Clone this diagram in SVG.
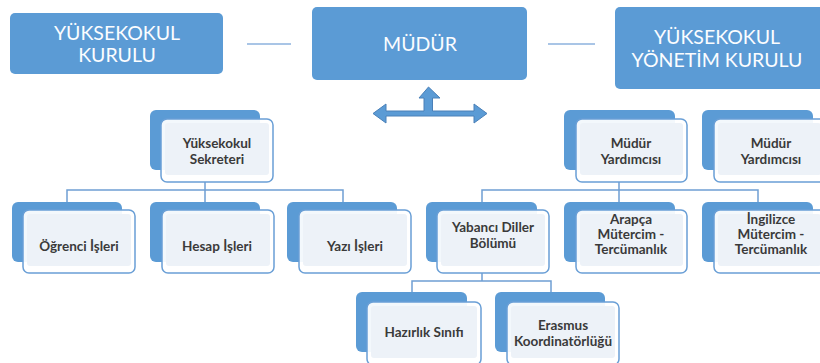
<svg xmlns="http://www.w3.org/2000/svg" width="820" height="363" viewBox="0 0 820 363">
<style>
.top{fill:#5b9bd5;}
.tt{font-family:Lato,"Liberation Sans",sans-serif;font-size:19.5px;fill:#fbfdff;text-anchor:middle;}
.back{fill:#5b9bd5;}
.front{fill:#ffffff;fill-opacity:0.93;stroke:#6a9fd6;stroke-width:1.5;}
.inner{fill:#edf2f8;}
.st{font-family:Lato,"Liberation Sans",sans-serif;font-size:13.5px;font-weight:bold;fill:#3a3a3a;text-anchor:middle;}
.conn{fill:none;stroke:#6f9fd3;stroke-width:1.5;}
.tl{fill:none;stroke:#a9c5e6;stroke-width:2;}
</style>
<rect width="820" height="363" fill="#ffffff"/>
<g id="connectors">
<line class="tl" x1="247" y1="44" x2="291" y2="44"/>
<line class="tl" x1="548" y1="44" x2="595" y2="44"/>
<path class="conn" d="M205 182V190M67 202V190H343V202M205 190V202"/>
<path class="conn" d="M619 182V190M482 202V190H758V202M619 190V202"/>
<path class="conn" d="M482 273V281M412 292V281H551V292"/>
</g>
<g id="arrow">
<path d="M373 113.5L386 104V111H424V98H419L428.5 87L440 98H432.5V111H474V104L487 113.5L474 123V116H386V123Z" fill="#5b9bd5" stroke="#4a80b8" stroke-width="1"/>
</g>
<g id="yuksekokul-kurulu">
<rect class="top" x="10" y="13" width="213" height="61" rx="5"/>
<text class="tt" x="117" y="40">YÜKSEKOKUL</text>
<text class="tt" x="117" y="62">KURULU</text>
</g>
<g id="mudur">
<rect class="top" x="312" y="7" width="215" height="73" rx="5"/>
<text class="tt" x="420" y="51">MÜDÜR</text>
</g>
<g id="yonetim-kurulu">
<rect class="top" x="615" y="7" width="215" height="82" rx="5"/>
<text class="tt" x="717" y="44">YÜKSEKOKUL</text>
<text class="tt" x="717" y="67">YÖNETİM KURULU</text>
</g>
<g id="sekreter">
<rect class="back" x="150" y="110" width="110" height="60" rx="6"/>
<rect class="front" x="161" y="119" width="112" height="63" rx="6"/>
<rect class="inner" x="165" y="123" width="104" height="52" rx="3"/>
<text class="st" x="217" y="148">Yüksekokul</text>
<text class="st" x="217" y="164">Sekreteri</text>
</g>
<g id="ogrenci">
<rect class="back" x="12" y="202" width="110" height="60" rx="6"/>
<rect class="front" x="23" y="210" width="112" height="63" rx="6"/>
<rect class="inner" x="27" y="214" width="104" height="52" rx="3"/>
<text class="st" x="79" y="251">Öğrenci İşleri</text>
</g>
<g id="hesap">
<rect class="back" x="150" y="202" width="110" height="60" rx="6"/>
<rect class="front" x="162" y="210" width="112" height="63" rx="6"/>
<rect class="inner" x="166" y="214" width="104" height="52" rx="3"/>
<text class="st" x="217" y="251">Hesap İşleri</text>
</g>
<g id="yazi">
<rect class="back" x="287" y="202" width="110" height="60" rx="6"/>
<rect class="front" x="299" y="210" width="112" height="63" rx="6"/>
<rect class="inner" x="303" y="214" width="104" height="52" rx="3"/>
<text class="st" x="355" y="251">Yazı İşleri</text>
</g>
<g id="mudur-yardimcisi-1">
<rect class="back" x="564" y="110" width="111" height="60" rx="6"/>
<rect class="front" x="576" y="119" width="111" height="63" rx="6"/>
<rect class="inner" x="580" y="123" width="103" height="52" rx="3"/>
<text class="st" x="631" y="148">Müdür</text>
<text class="st" x="631" y="164">Yardımcısı</text>
</g>
<g id="mudur-yardimcisi-2">
<rect class="back" x="702" y="110" width="111" height="60" rx="6"/>
<rect class="front" x="714" y="119" width="111" height="63" rx="6"/>
<rect class="inner" x="718" y="123" width="103" height="52" rx="3"/>
<text class="st" x="771" y="148">Müdür</text>
<text class="st" x="771" y="164">Yardımcısı</text>
</g>
<g id="yabanci-diller">
<rect class="back" x="426" y="202" width="111" height="60" rx="6"/>
<rect class="front" x="437" y="210" width="112" height="63" rx="6"/>
<rect class="inner" x="441" y="214" width="104" height="52" rx="3"/>
<text class="st" x="493" y="232">Yabancı Diller</text>
<text class="st" x="493" y="248">Bölümü</text>
</g>
<g id="arapca">
<rect class="back" x="564" y="202" width="111" height="60" rx="6"/>
<rect class="front" x="576" y="210" width="111" height="63" rx="6"/>
<rect class="inner" x="580" y="214" width="103" height="52" rx="3"/>
<text class="st" x="631" y="224">Arapça</text>
<text class="st" x="631" y="239">Mütercim -</text>
<text class="st" x="631" y="254">Tercümanlık</text>
</g>
<g id="ingilizce">
<rect class="back" x="702" y="202" width="111" height="60" rx="6"/>
<rect class="front" x="714" y="210" width="111" height="63" rx="6"/>
<rect class="inner" x="718" y="214" width="103" height="52" rx="3"/>
<text class="st" x="771" y="224">İngilizce</text>
<text class="st" x="771" y="239">Mütercim -</text>
<text class="st" x="771" y="254">Tercümanlık</text>
</g>
<g id="hazirlik">
<rect class="back" x="356" y="292" width="111" height="60" rx="6"/>
<rect class="front" x="367" y="302" width="114" height="63" rx="6"/>
<rect class="inner" x="371" y="306" width="106" height="52" rx="3"/>
<text class="st" x="424" y="337">Hazırlık Sınıfı</text>
</g>
<g id="erasmus">
<rect class="back" x="495" y="292" width="110" height="60" rx="6"/>
<rect class="front" x="507" y="302" width="112" height="63" rx="6"/>
<rect class="inner" x="511" y="306" width="104" height="52" rx="3"/>
<text class="st" x="563" y="330">Erasmus</text>
<text class="st" x="563" y="346">Koordinatörlüğü</text>
</g>
</svg>
